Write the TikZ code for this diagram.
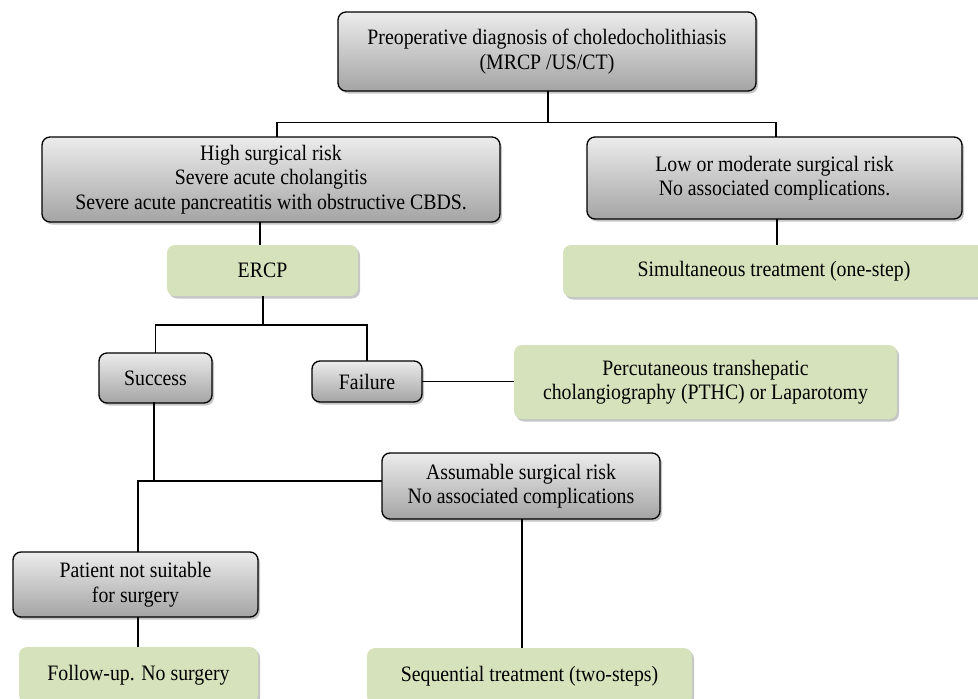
\documentclass[tikz,border=0pt]{standalone}
\usepackage{fontspec}
\setmainfont[FakeStretch=0.9]{Liberation Serif}
\usetikzlibrary{shadows}
\begin{document}
\begin{tikzpicture}[x=1pt,y=-1pt,line cap=rect,
	greybox/.style={draw=custcol_0_0_0, line width=1.3pt, rounded corners=8pt,
		top color=custcol_ec_ec_ec, bottom color=custcol_a4_a4_a4,
		drop shadow={opacity=0.45, shadow xshift=2pt, shadow yshift=-2.5pt},
		align=center, inner sep=0pt, font=\fontsize{22pt}{24.5pt}\selectfont},
	greenbox/.style={fill=custcol_d6_e2_bc, rounded corners=8pt,
		drop shadow={opacity=0.45, shadow xshift=2pt, shadow yshift=-2.5pt},
		align=center, inner sep=0pt, font=\fontsize{22pt}{24.5pt}\selectfont},
	link/.style={draw=custcol_0_0_0, line width=1.3pt}]
	\definecolor{custcol_0_0_0}{RGB}{0, 0, 0}
	\definecolor{custcol_ec_ec_ec}{RGB}{236, 236, 236}
	\definecolor{custcol_a4_a4_a4}{RGB}{164, 164, 164}
	\definecolor{custcol_d6_e2_bc}{RGB}{214, 226, 188}
	\useasboundingbox (0.0,0.0) rectangle (978.0,699.0);
	% boxes
	\node [greybox, minimum width=418, minimum height=79] (diag) at (547.0,51.5) {Preoperative diagnosis of choledocholithiasis\\(MRCP /US/CT)};
	\node [greybox, minimum width=458, minimum height=85] (high) at (271.0,179.5) {High surgical risk\\Severe acute cholangitis\\Severe acute pancreatitis with obstructive CBDS.};
	\node [greybox, minimum width=375, minimum height=82] (low) at (774.5,178.0) {Low or moderate surgical risk\\No associated complications.};
	\node [greenbox, minimum width=191, minimum height=51] (ercp) at (262.5,270.5) {ERCP};
	\node [greenbox, minimum width=422, minimum height=52] (simul) at (774.0,271.0) {Simultaneous treatment (one-step)};
	\node [greybox, minimum width=113, minimum height=50] (success) at (155.5,378.0) {Success};
	\node [greybox, minimum width=110, minimum height=41] (failure) at (367.0,381.5) {Failure};
	\node [greenbox, minimum width=383, minimum height=74] (pthc) at (705.5,382.0) {Percutaneous transhepatic\\cholangiography (PTHC) or Laparotomy};
	\node [greybox, minimum width=278, minimum height=66] (assum) at (521.0,486.0) {Assumable surgical risk\\No associated complications};
	\node [greybox, minimum width=245, minimum height=65] (patient) at (135.5,584.5) {Patient not suitable\\for surgery};
	\node [greenbox, minimum width=239, minimum height=56] (follow) at (138.5,675.0) {Follow-up. No surgery};
	\node [greenbox, minimum width=325, minimum height=56] (seq) at (529.5,676.0) {Sequential treatment (two-steps)};
	% connectors
	\coordinate (top_split) at (548.0,122.5);
	\coordinate (ercp_split) at (263.0,325.0);
	\coordinate (low_split) at (138.0,481.0);
	\draw [link] (top_split |- diag.south) -- (top_split);
	\draw [link] (277.0,0 |- high.north) -- (277.0,0 |- top_split) -- (776.0,0 |- top_split) -- (776.0,0 |- low.north);
	\draw [link] (260.0,0 |- high.south) -- (260.0,0 |- ercp.north);
	\draw [link] (777.0,0 |- low.south) -- (777.0,0 |- simul.north);
	\draw [link] (ercp_split |- ercp.south) -- (ercp_split);
	\draw [link] (success.north |- ercp_split) -- (failure.north |- ercp_split);
	\draw [link] (success.north |- ercp_split) -- (success.north);
	\draw [link] (failure.north |- ercp_split) -- (failure.north);
	\draw [link] (failure.east) -- (pthc.west |- failure.east);
	\draw [link, line width=2.6pt] (154.0,0 |- success.south) -- (154.0,0 |- low_split);
	\draw [link] (low_split) -- (assum.west |- low_split);
	\draw [link] (low_split) -- (low_split |- patient.north);
	\draw [link] (low_split |- patient.south) -- (low_split |- follow.north);
	\draw [link] (522.0,0 |- assum.south) -- (522.0,0 |- seq.north);
\end{tikzpicture}
\end{document}
